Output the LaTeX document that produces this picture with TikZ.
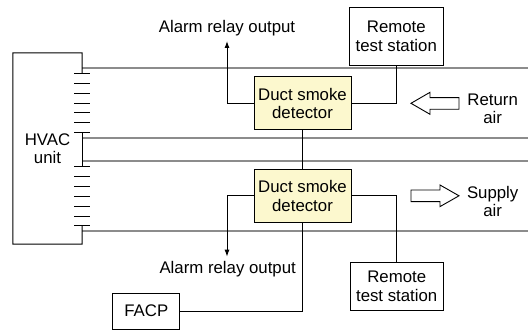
\documentclass[tikz,border=0pt]{standalone}
\usepackage{fontspec}
\setmainfont{Liberation Sans}
\usetikzlibrary{arrows.meta}
\definecolor{detfill}{RGB}{252,248,206}
\begin{document}
\begin{tikzpicture}[x=1pt,y=-1pt,font=\fontsize{16.8}{18.5}\selectfont,
  box/.style={draw,line width=1pt,align=center,inner sep=0pt},
  duct/.style={draw=black!45,line width=2pt},
  wire/.style={line width=1pt},
  relay/.style={wire,-{Latex[length=7pt,width=5pt]}},
  airflow/.style={draw,line width=0.9pt,fill=white}]
\useasboundingbox (0,0) rectangle (528,331);

% ducts
\draw[duct] (82,68.5) -- (528,68.5);
\draw[duct] (82,138.3) -- (528,138.3);
\draw[duct] (82,160.7) -- (528,160.7);
\draw[duct] (82,230.7) -- (528,230.7);

% HVAC unit with louvres
\node (hvac) [align=center,minimum width=69,minimum height=191,inner sep=0pt] at (47.5,148.5) {HVAC\\unit};
\draw[wire] (82,73.5) -- (hvac.north east) -- (hvac.north west) -- (hvac.south west) -- (hvac.south east) -- (82,226);
\draw[wire] (82,132.7) -- (82,166.7);
\foreach \i in {0,...,6} {
  \draw[wire] (74,73.5+9.85*\i) -- (90,73.5+9.85*\i);
  \draw[wire] (74,166.7+9.88*\i) -- (90,166.7+9.88*\i);
}

% detectors and boxes
\node (det1) [box,fill=detfill,minimum width=97,minimum height=53.3] at (302.5,103.3) {Duct smoke\\detector};
\node (det2) [box,fill=detfill,minimum width=97,minimum height=53.3] at (302.5,196) {Duct smoke\\detector};
\node (rts1) [box,minimum width=94,minimum height=57.7] at (396.3,36.2) {Remote\\test station};
\node (rts2) [box,minimum width=93.3,minimum height=48.4] at (396.7,286.5) {Remote\\test station};
\node (facp) [box,minimum width=67.3,minimum height=35.7] at (146.3,311.2) {FACP};

\node (alarm1) at (227,28) {Alarm relay output};
\node (alarm2) at (227.7,269.3) {Alarm relay output};
\coordinate (tip1) at (227,41);
\coordinate (tip2) at (227,256.7);

% wiring
\draw[relay] (det1.west) -| (tip1);
\draw[relay] (det2.west) -| (tip2);
\draw[wire] (det1.east) -| (rts1.south);
\draw[wire] (det2.east) -| (rts2.north);
\draw[wire] (det1.south) -- (det2.north);
\draw[wire] (det2.south) |- (facp.east);

% air flow
\coordinate (ret) at (411,103.3);
\draw[airflow] (ret) -- ++(19,-11) -- ++(0,5.4) -- ++(29,0) -- ++(0,11.6) -- ++(-29,0) -- ++(0,5) -- cycle;
\node (retair) [align=center] at (492.7,108.8) {Return\\air};
\coordinate (sup) at (459,195.8);
\draw[airflow] (sup) -- ++(-19,-10.8) -- ++(0,5) -- ++(-29,0) -- ++(0,11.6) -- ++(29,0) -- ++(0,5) -- cycle;
\node (supair) [align=center] at (492.7,201.3) {Supply\\air};
\end{tikzpicture}
\end{document}
